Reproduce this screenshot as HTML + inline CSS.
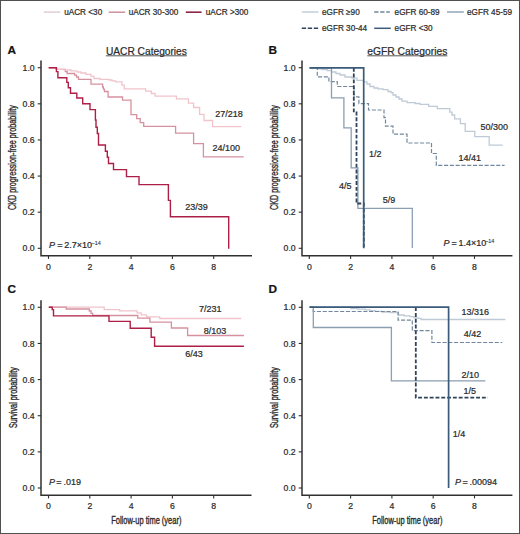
<!DOCTYPE html>
<html><head><meta charset="utf-8"><style>
html,body{margin:0;padding:0;background:#fff;}
body{width:520px;height:534px;overflow:hidden;}
svg{display:block;}
text{stroke:#2a2a2a;stroke-width:0.22px;}
</style></head><body>
<svg width="520" height="534" viewBox="0 0 520 534">
<rect x="0" y="0" width="520" height="534" fill="#fff"/>
<rect x="0.5" y="0.5" width="519" height="533" fill="none" stroke="#505050" stroke-width="1"/>
<path d="M43.8 12.1 H60.2" stroke="#dccbcf" stroke-width="1.4"/>
<text x="64.2" y="14.6" font-size="8.2" text-anchor="start" fill="#2a2a2a" font-family="Liberation Sans, sans-serif" >uACR &lt;30</text>
<path d="M108.8 12.2 H125.2" stroke="#c98a98" stroke-width="1.4"/>
<text x="128.7" y="14.6" font-size="8.2" text-anchor="start" fill="#2a2a2a" font-family="Liberation Sans, sans-serif" >uACR 30-300</text>
<path d="M185.8 12.2 H201.6" stroke="#8c2445" stroke-width="1.6"/>
<text x="205.8" y="14.6" font-size="8.2" text-anchor="start" fill="#2a2a2a" font-family="Liberation Sans, sans-serif" >uACR &gt;300</text>
<path d="M301.8 12.0 H318.5" stroke="#bfcad6" stroke-width="1.4"/>
<text x="322" y="14.6" font-size="8.2" text-anchor="start" fill="#2a2a2a" font-family="Liberation Sans, sans-serif" >eGFR ≥90</text>
<path d="M374.2 12.0 H389.8" stroke="#72879d" stroke-width="1.3" stroke-dasharray="4.3 1.7"/>
<text x="394.6" y="14.6" font-size="8.2" text-anchor="start" fill="#2a2a2a" font-family="Liberation Sans, sans-serif" >eGFR 60-89</text>
<path d="M447 12.0 H463.8" stroke="#8b9eb2" stroke-width="1.4"/>
<text x="467" y="14.6" font-size="8.2" text-anchor="start" fill="#2a2a2a" font-family="Liberation Sans, sans-serif" >eGFR 45-59</text>
<path d="M301.8 28.3 H318.5" stroke="#2f435a" stroke-width="1.5" stroke-dasharray="4.3 1.7"/>
<text x="322" y="30.8" font-size="8.2" text-anchor="start" fill="#2a2a2a" font-family="Liberation Sans, sans-serif" >eGFR 30-44</text>
<path d="M374.2 28.3 H390.8" stroke="#3a5b79" stroke-width="1.5"/>
<text x="394.6" y="30.8" font-size="8.2" text-anchor="start" fill="#2a2a2a" font-family="Liberation Sans, sans-serif" >eGFR &lt;30</text>
<text x="7.6" y="53.8" font-size="11.8" font-weight="bold" fill="#111" font-family="Liberation Sans, sans-serif">A</text>
<text x="268.6" y="53.8" font-size="11.8" font-weight="bold" fill="#111" font-family="Liberation Sans, sans-serif">B</text>
<text x="7.4" y="292.8" font-size="11.8" font-weight="bold" fill="#111" font-family="Liberation Sans, sans-serif">C</text>
<text x="268.6" y="293" font-size="11.8" font-weight="bold" fill="#111" font-family="Liberation Sans, sans-serif">D</text>
<text x="146.4" y="54.5" font-size="10.2" text-anchor="middle" fill="#2a2a2a" font-family="Liberation Sans, sans-serif" textLength="81" lengthAdjust="spacingAndGlyphs">UACR Categories</text>
<path d="M105.9 55.8 H186.9" stroke="#2a2a2a" stroke-width="0.8"/>
<text x="407.3" y="54.5" font-size="10.2" text-anchor="middle" fill="#2a2a2a" font-family="Liberation Sans, sans-serif" textLength="80" lengthAdjust="spacingAndGlyphs">eGFR Categories</text>
<path d="M367.3 55.8 H447.3" stroke="#2a2a2a" stroke-width="0.8"/>
<path d="M41 60.5 V255.7 H252" fill="none" stroke="#303030" stroke-width="1.5"/>
<path d="M37.7 248.30 H41" stroke="#303030" stroke-width="1.1"/>
<text x="34.7" y="251.40" font-size="8.7" text-anchor="end" fill="#2a2a2a" font-family="Liberation Sans, sans-serif">0.0</text>
<path d="M37.7 212.18 H41" stroke="#303030" stroke-width="1.1"/>
<text x="34.7" y="215.28" font-size="8.7" text-anchor="end" fill="#2a2a2a" font-family="Liberation Sans, sans-serif">0.2</text>
<path d="M37.7 176.06 H41" stroke="#303030" stroke-width="1.1"/>
<text x="34.7" y="179.16" font-size="8.7" text-anchor="end" fill="#2a2a2a" font-family="Liberation Sans, sans-serif">0.4</text>
<path d="M37.7 139.94 H41" stroke="#303030" stroke-width="1.1"/>
<text x="34.7" y="143.04" font-size="8.7" text-anchor="end" fill="#2a2a2a" font-family="Liberation Sans, sans-serif">0.6</text>
<path d="M37.7 103.82 H41" stroke="#303030" stroke-width="1.1"/>
<text x="34.7" y="106.92" font-size="8.7" text-anchor="end" fill="#2a2a2a" font-family="Liberation Sans, sans-serif">0.8</text>
<path d="M37.7 67.70 H41" stroke="#303030" stroke-width="1.1"/>
<text x="34.7" y="70.80" font-size="8.7" text-anchor="end" fill="#2a2a2a" font-family="Liberation Sans, sans-serif">1.0</text>
<path d="M48.50 255.7 V258.9" stroke="#303030" stroke-width="1.1"/>
<text x="48.50" y="269.8" font-size="8.7" text-anchor="middle" fill="#2a2a2a" font-family="Liberation Sans, sans-serif">0</text>
<path d="M89.80 255.7 V258.9" stroke="#303030" stroke-width="1.1"/>
<text x="89.80" y="269.8" font-size="8.7" text-anchor="middle" fill="#2a2a2a" font-family="Liberation Sans, sans-serif">2</text>
<path d="M131.10 255.7 V258.9" stroke="#303030" stroke-width="1.1"/>
<text x="131.10" y="269.8" font-size="8.7" text-anchor="middle" fill="#2a2a2a" font-family="Liberation Sans, sans-serif">4</text>
<path d="M172.40 255.7 V258.9" stroke="#303030" stroke-width="1.1"/>
<text x="172.40" y="269.8" font-size="8.7" text-anchor="middle" fill="#2a2a2a" font-family="Liberation Sans, sans-serif">6</text>
<path d="M213.70 255.7 V258.9" stroke="#303030" stroke-width="1.1"/>
<text x="213.70" y="269.8" font-size="8.7" text-anchor="middle" fill="#2a2a2a" font-family="Liberation Sans, sans-serif">8</text>
<text transform="translate(16.4 157.6) rotate(-90)" font-size="10" text-anchor="middle" textLength="104.7" lengthAdjust="spacingAndGlyphs" fill="#2a2a2a" style="stroke-width:0.35px" font-family="Liberation Sans, sans-serif">CKD progression-free probability</text>
<path d="M302 60.5 V255.7 H512.4" fill="none" stroke="#303030" stroke-width="1.5"/>
<path d="M298.7 248.30 H302" stroke="#303030" stroke-width="1.1"/>
<text x="295.7" y="251.40" font-size="8.7" text-anchor="end" fill="#2a2a2a" font-family="Liberation Sans, sans-serif">0.0</text>
<path d="M298.7 212.18 H302" stroke="#303030" stroke-width="1.1"/>
<text x="295.7" y="215.28" font-size="8.7" text-anchor="end" fill="#2a2a2a" font-family="Liberation Sans, sans-serif">0.2</text>
<path d="M298.7 176.06 H302" stroke="#303030" stroke-width="1.1"/>
<text x="295.7" y="179.16" font-size="8.7" text-anchor="end" fill="#2a2a2a" font-family="Liberation Sans, sans-serif">0.4</text>
<path d="M298.7 139.94 H302" stroke="#303030" stroke-width="1.1"/>
<text x="295.7" y="143.04" font-size="8.7" text-anchor="end" fill="#2a2a2a" font-family="Liberation Sans, sans-serif">0.6</text>
<path d="M298.7 103.82 H302" stroke="#303030" stroke-width="1.1"/>
<text x="295.7" y="106.92" font-size="8.7" text-anchor="end" fill="#2a2a2a" font-family="Liberation Sans, sans-serif">0.8</text>
<path d="M298.7 67.70 H302" stroke="#303030" stroke-width="1.1"/>
<text x="295.7" y="70.80" font-size="8.7" text-anchor="end" fill="#2a2a2a" font-family="Liberation Sans, sans-serif">1.0</text>
<path d="M309.30 255.7 V258.9" stroke="#303030" stroke-width="1.1"/>
<text x="309.30" y="269.8" font-size="8.7" text-anchor="middle" fill="#2a2a2a" font-family="Liberation Sans, sans-serif">0</text>
<path d="M350.60 255.7 V258.9" stroke="#303030" stroke-width="1.1"/>
<text x="350.60" y="269.8" font-size="8.7" text-anchor="middle" fill="#2a2a2a" font-family="Liberation Sans, sans-serif">2</text>
<path d="M391.90 255.7 V258.9" stroke="#303030" stroke-width="1.1"/>
<text x="391.90" y="269.8" font-size="8.7" text-anchor="middle" fill="#2a2a2a" font-family="Liberation Sans, sans-serif">4</text>
<path d="M433.20 255.7 V258.9" stroke="#303030" stroke-width="1.1"/>
<text x="433.20" y="269.8" font-size="8.7" text-anchor="middle" fill="#2a2a2a" font-family="Liberation Sans, sans-serif">6</text>
<path d="M474.50 255.7 V258.9" stroke="#303030" stroke-width="1.1"/>
<text x="474.50" y="269.8" font-size="8.7" text-anchor="middle" fill="#2a2a2a" font-family="Liberation Sans, sans-serif">8</text>
<text transform="translate(277.5 157.6) rotate(-90)" font-size="10" text-anchor="middle" textLength="104.7" lengthAdjust="spacingAndGlyphs" fill="#2a2a2a" style="stroke-width:0.35px" font-family="Liberation Sans, sans-serif">CKD progression-free probability</text>
<path d="M41 300.2 V495.2 H251.5" fill="none" stroke="#303030" stroke-width="1.5"/>
<path d="M37.7 488.00 H41" stroke="#303030" stroke-width="1.1"/>
<text x="34.7" y="491.10" font-size="8.7" text-anchor="end" fill="#2a2a2a" font-family="Liberation Sans, sans-serif">0.0</text>
<path d="M37.7 451.86 H41" stroke="#303030" stroke-width="1.1"/>
<text x="34.7" y="454.96" font-size="8.7" text-anchor="end" fill="#2a2a2a" font-family="Liberation Sans, sans-serif">0.2</text>
<path d="M37.7 415.72 H41" stroke="#303030" stroke-width="1.1"/>
<text x="34.7" y="418.82" font-size="8.7" text-anchor="end" fill="#2a2a2a" font-family="Liberation Sans, sans-serif">0.4</text>
<path d="M37.7 379.58 H41" stroke="#303030" stroke-width="1.1"/>
<text x="34.7" y="382.68" font-size="8.7" text-anchor="end" fill="#2a2a2a" font-family="Liberation Sans, sans-serif">0.6</text>
<path d="M37.7 343.44 H41" stroke="#303030" stroke-width="1.1"/>
<text x="34.7" y="346.54" font-size="8.7" text-anchor="end" fill="#2a2a2a" font-family="Liberation Sans, sans-serif">0.8</text>
<path d="M37.7 307.30 H41" stroke="#303030" stroke-width="1.1"/>
<text x="34.7" y="310.40" font-size="8.7" text-anchor="end" fill="#2a2a2a" font-family="Liberation Sans, sans-serif">1.0</text>
<path d="M48.50 495.2 V498.4" stroke="#303030" stroke-width="1.1"/>
<text x="48.50" y="509.3" font-size="8.7" text-anchor="middle" fill="#2a2a2a" font-family="Liberation Sans, sans-serif">0</text>
<path d="M89.80 495.2 V498.4" stroke="#303030" stroke-width="1.1"/>
<text x="89.80" y="509.3" font-size="8.7" text-anchor="middle" fill="#2a2a2a" font-family="Liberation Sans, sans-serif">2</text>
<path d="M131.10 495.2 V498.4" stroke="#303030" stroke-width="1.1"/>
<text x="131.10" y="509.3" font-size="8.7" text-anchor="middle" fill="#2a2a2a" font-family="Liberation Sans, sans-serif">4</text>
<path d="M172.40 495.2 V498.4" stroke="#303030" stroke-width="1.1"/>
<text x="172.40" y="509.3" font-size="8.7" text-anchor="middle" fill="#2a2a2a" font-family="Liberation Sans, sans-serif">6</text>
<path d="M213.70 495.2 V498.4" stroke="#303030" stroke-width="1.1"/>
<text x="213.70" y="509.3" font-size="8.7" text-anchor="middle" fill="#2a2a2a" font-family="Liberation Sans, sans-serif">8</text>
<text transform="translate(16.5 397.6) rotate(-90)" font-size="10" text-anchor="middle" textLength="61" lengthAdjust="spacingAndGlyphs" fill="#2a2a2a" style="stroke-width:0.35px" font-family="Liberation Sans, sans-serif">Survival probability</text>
<text x="146.3" y="523.6" font-size="10.4" text-anchor="middle" textLength="70.2" lengthAdjust="spacingAndGlyphs" fill="#2a2a2a" style="stroke-width:0.35px" font-family="Liberation Sans, sans-serif">Follow-up time (year)</text>
<path d="M302 300.2 V495.2 H512.4" fill="none" stroke="#303030" stroke-width="1.5"/>
<path d="M298.7 488.00 H302" stroke="#303030" stroke-width="1.1"/>
<text x="295.7" y="491.10" font-size="8.7" text-anchor="end" fill="#2a2a2a" font-family="Liberation Sans, sans-serif">0.0</text>
<path d="M298.7 451.86 H302" stroke="#303030" stroke-width="1.1"/>
<text x="295.7" y="454.96" font-size="8.7" text-anchor="end" fill="#2a2a2a" font-family="Liberation Sans, sans-serif">0.2</text>
<path d="M298.7 415.72 H302" stroke="#303030" stroke-width="1.1"/>
<text x="295.7" y="418.82" font-size="8.7" text-anchor="end" fill="#2a2a2a" font-family="Liberation Sans, sans-serif">0.4</text>
<path d="M298.7 379.58 H302" stroke="#303030" stroke-width="1.1"/>
<text x="295.7" y="382.68" font-size="8.7" text-anchor="end" fill="#2a2a2a" font-family="Liberation Sans, sans-serif">0.6</text>
<path d="M298.7 343.44 H302" stroke="#303030" stroke-width="1.1"/>
<text x="295.7" y="346.54" font-size="8.7" text-anchor="end" fill="#2a2a2a" font-family="Liberation Sans, sans-serif">0.8</text>
<path d="M298.7 307.30 H302" stroke="#303030" stroke-width="1.1"/>
<text x="295.7" y="310.40" font-size="8.7" text-anchor="end" fill="#2a2a2a" font-family="Liberation Sans, sans-serif">1.0</text>
<path d="M309.30 495.2 V498.4" stroke="#303030" stroke-width="1.1"/>
<text x="309.30" y="509.3" font-size="8.7" text-anchor="middle" fill="#2a2a2a" font-family="Liberation Sans, sans-serif">0</text>
<path d="M350.60 495.2 V498.4" stroke="#303030" stroke-width="1.1"/>
<text x="350.60" y="509.3" font-size="8.7" text-anchor="middle" fill="#2a2a2a" font-family="Liberation Sans, sans-serif">2</text>
<path d="M391.90 495.2 V498.4" stroke="#303030" stroke-width="1.1"/>
<text x="391.90" y="509.3" font-size="8.7" text-anchor="middle" fill="#2a2a2a" font-family="Liberation Sans, sans-serif">4</text>
<path d="M433.20 495.2 V498.4" stroke="#303030" stroke-width="1.1"/>
<text x="433.20" y="509.3" font-size="8.7" text-anchor="middle" fill="#2a2a2a" font-family="Liberation Sans, sans-serif">6</text>
<path d="M474.50 495.2 V498.4" stroke="#303030" stroke-width="1.1"/>
<text x="474.50" y="509.3" font-size="8.7" text-anchor="middle" fill="#2a2a2a" font-family="Liberation Sans, sans-serif">8</text>
<text transform="translate(277.7 397.6) rotate(-90)" font-size="10" text-anchor="middle" textLength="61" lengthAdjust="spacingAndGlyphs" fill="#2a2a2a" style="stroke-width:0.35px" font-family="Liberation Sans, sans-serif">Survival probability</text>
<text x="407.3" y="523.6" font-size="10.4" text-anchor="middle" textLength="70.2" lengthAdjust="spacingAndGlyphs" fill="#2a2a2a" style="stroke-width:0.35px" font-family="Liberation Sans, sans-serif">Follow-up time (year)</text>
<text y="247.5" font-size="9" fill="#2a2a2a" font-family="Liberation Sans, sans-serif"><tspan x="49" font-style="italic">P</tspan><tspan x="57.2">=</tspan><tspan x="64.2">2.7×10</tspan><tspan x="91.6" font-size="5.4" dy="-2.4" style="stroke-width:0.1px">−14</tspan></text>
<text y="245.7" font-size="9" fill="#2a2a2a" font-family="Liberation Sans, sans-serif"><tspan x="443.5" font-style="italic">P</tspan><tspan x="451.4">=</tspan><tspan x="458.6">1.4×10</tspan><tspan x="485.2" font-size="5.4" dy="-2.4" style="stroke-width:0.1px">−14</tspan></text>
<text y="484.9" font-size="9" fill="#2a2a2a" font-family="Liberation Sans, sans-serif"><tspan x="49" font-style="italic">P</tspan><tspan x="56.2">=</tspan><tspan x="63.6">.019</tspan></text>
<text y="484.8" font-size="9" fill="#2a2a2a" font-family="Liberation Sans, sans-serif"><tspan x="455" font-style="italic">P</tspan><tspan x="462.4">=</tspan><tspan x="469.6">.00094</tspan></text>
<path d="M48.7 67.8 H56.4 V69.4 H65.3 V71.6 H67.2 V73.5 H74.6 V75.1 H76.5 V77 H78.5 V79.4 H91 V84.2 H102.6 V87 H103.4 V89.2 H104.4 V91.5 H108.1 V97 H122.5 V100.2 H131 V114.6 H136.7 V118.7 H140.2 V122.7 H143.7 V126.4 H175.6 V133.2 H193.6 V143.7 H203.4 V156.9 H243.7" fill="none" stroke="#d6919f" stroke-width="1.3"/>
<path d="M48.7 67.8 H56.4 V69.3 H64 V70 H71 V70.8 H77 V72 H81 V73 H86 V74.4 H91 V76.4 H94 V78.5 H100 V79.4 H109 V80 H112 V80.8 H115.7 V81.8 H121.9 V85.2 H124.2 V88.9 H145.6 V91.2 H151.3 V93.5 H155 V96.2 H176.4 V98.9 H188.4 V103.2 H193.6 V107.5 H199.6 V114.4 H204 V120.5 H212.6 V126.6 H241.2" fill="none" stroke="#f1c3cb" stroke-width="1.3"/>
<path d="M48.7 67.8 H56.4 V71.6 H57.9 V77.8 H66.8 V82.4 H68.3 V87.8 H70.5 V93.2 H76.8 V98 H82.7 V103.8 H90 V109.6 H95.4 V120 H96 V127.3 H97.3 V133.5 H98.5 V145 H105.4 V151.2 H107.3 V157.3 H108.5 V163.5 H113.5 V169.6 H126.5 V176.6 H139 V184.6 H168.4 V200.4 H170.4 V216.8 H228.7 V248.7" fill="none" stroke="#ae1f47" stroke-width="1.4"/>
<text x="215.2" y="117" font-size="9" text-anchor="start" fill="#2a2a2a" font-family="Liberation Sans, sans-serif" >27/218</text>
<text x="212.6" y="151.2" font-size="9" text-anchor="start" fill="#2a2a2a" font-family="Liberation Sans, sans-serif" >24/100</text>
<text x="185.2" y="209.8" font-size="9" text-anchor="start" fill="#2a2a2a" font-family="Liberation Sans, sans-serif" >23/39</text>
<path d="M309.6 67.8 H318 V68.8 H322 V69.7 H327.3 V70.6 H331.5 V72 H336 V73.5 H340 V75 H345 V77 H352 V78.1 H357 V80.4 H363.5 V81.9 H367 V84 H370 V86.5 H374 V88 H378 V88.8 H383 V89.6 H388 V91.5 H391 V92.7 H393 V95 H396 V97 H399 V99 H402 V101.2 H407 V102.7 H415 V103.5 H420 V104.4 H428.7 V106.3 H437.3 V108.7 H449.8 V112.1 H452 V115 H454.6 V118.8 H460.4 V123.7 H465.2 V131.3 H474.8 V136.7 H489.2 V145.2 H502.7" fill="none" stroke="#bfcad6" stroke-width="1.3"/>
<path d="M309.6 67.8 H317.3 V76.8 H328.9 V81.6 H337.3 V86.5 H354 V96.9 H358.9 V103.6 H368.5 V110 H384 V117.7 H385.5 V126.2 H393 V134.2 H407 V143 H431.5 V153.5 H436.3 V165.4 H504.6" fill="none" stroke="#72879d" stroke-width="1.2" stroke-dasharray="4.1 1.7"/>
<path d="M309.6 67.8 H331.5 V97.8 H343.9 V127.9 H351.2 V167.9 H357.9 V208.4 H412.3 V248.1" fill="none" stroke="#8b9eb2" stroke-width="1.3"/>
<path d="M353.8 67.8 V112.3 H356.5 V203.5 H363.8 V248.3" fill="none" stroke="#2f435a" stroke-width="1.8" stroke-dasharray="3.9 1.9"/>
<path d="M309.6 67.8 H363.7 V248.3" fill="none" stroke="#3a5b79" stroke-width="1.7"/>
<text x="480.6" y="130.4" font-size="9" text-anchor="start" fill="#2a2a2a" font-family="Liberation Sans, sans-serif" >50/300</text>
<text x="458.5" y="161.2" font-size="9" text-anchor="start" fill="#2a2a2a" font-family="Liberation Sans, sans-serif" >14/41</text>
<text x="369" y="156.6" font-size="9" text-anchor="start" fill="#2a2a2a" font-family="Liberation Sans, sans-serif" >1/2</text>
<text x="339.1" y="188.6" font-size="9" text-anchor="start" fill="#2a2a2a" font-family="Liberation Sans, sans-serif" >4/5</text>
<text x="382.8" y="203" font-size="9" text-anchor="start" fill="#2a2a2a" font-family="Liberation Sans, sans-serif" >5/9</text>
<path d="M48.8 307.2 H104.2 V309.6 H119.6 V310.8 H137.1 V312.8 H141.2 V314.8 H146.5 V316.8 H159.7 V318.5 H241.2" fill="none" stroke="#f1c3cb" stroke-width="1.3"/>
<path d="M48.8 307.2 H66.2 V309 H89.3 V311 H91 V313.3 H92.7 V315.5 H137.8 V318.2 H149.9 V322.2 H171.4 V328 H187.6 V335.5 H243.9" fill="none" stroke="#d6919f" stroke-width="1.3"/>
<path d="M48.8 307.2 H52.2 V309.6 H53.5 V315.9 H109 V321.4 H130.2 V328.3 H151.2 V337.3 H154.6 V346.2 H243.9" fill="none" stroke="#ae1f47" stroke-width="1.4"/>
<text x="199" y="311.8" font-size="9" text-anchor="start" fill="#2a2a2a" font-family="Liberation Sans, sans-serif" >7/231</text>
<text x="203.7" y="333.5" font-size="9" text-anchor="start" fill="#2a2a2a" font-family="Liberation Sans, sans-serif" >8/103</text>
<text x="185.2" y="356.5" font-size="9" text-anchor="start" fill="#2a2a2a" font-family="Liberation Sans, sans-serif" >6/43</text>
<path d="M309.6 307.2 H351 V308.5 H358 V309.2 H365 V309.9 H370 V310.6 H375 V311.3 H382 V312 H390 V312.6 H398.5 V315 H404 V315.8 H410 V316.7 H414 V317.8 H418 V318.4 H421 V319.5 H505.4" fill="none" stroke="#bfcad6" stroke-width="1.3"/>
<path d="M309.6 307.2 H313.3 V311.5 H398.1 V320.2 H412.3 V330.6 H431.9 V342.5 H502.3" fill="none" stroke="#72879d" stroke-width="1.2" stroke-dasharray="4.1 1.7"/>
<path d="M309.6 307.2 H313.3 V327.5 H391.4 V380.9 H485.3" fill="none" stroke="#8b9eb2" stroke-width="1.3"/>
<path d="M415.8 307.2 V397.7 H487.9" fill="none" stroke="#2f435a" stroke-width="1.8" stroke-dasharray="3.9 1.9"/>
<path d="M309.6 307.2 H448.6 V488" fill="none" stroke="#3a5b79" stroke-width="1.7"/>
<text x="461.5" y="315.4" font-size="9" text-anchor="start" fill="#2a2a2a" font-family="Liberation Sans, sans-serif" >13/316</text>
<text x="463.8" y="337.4" font-size="9" text-anchor="start" fill="#2a2a2a" font-family="Liberation Sans, sans-serif" >4/42</text>
<text x="461.5" y="377.7" font-size="9" text-anchor="start" fill="#2a2a2a" font-family="Liberation Sans, sans-serif" >2/10</text>
<text x="463.5" y="394.4" font-size="9" text-anchor="start" fill="#2a2a2a" font-family="Liberation Sans, sans-serif" >1/5</text>
<text x="452.7" y="436.5" font-size="9" text-anchor="start" fill="#2a2a2a" font-family="Liberation Sans, sans-serif" >1/4</text>
</svg>
</body></html>
